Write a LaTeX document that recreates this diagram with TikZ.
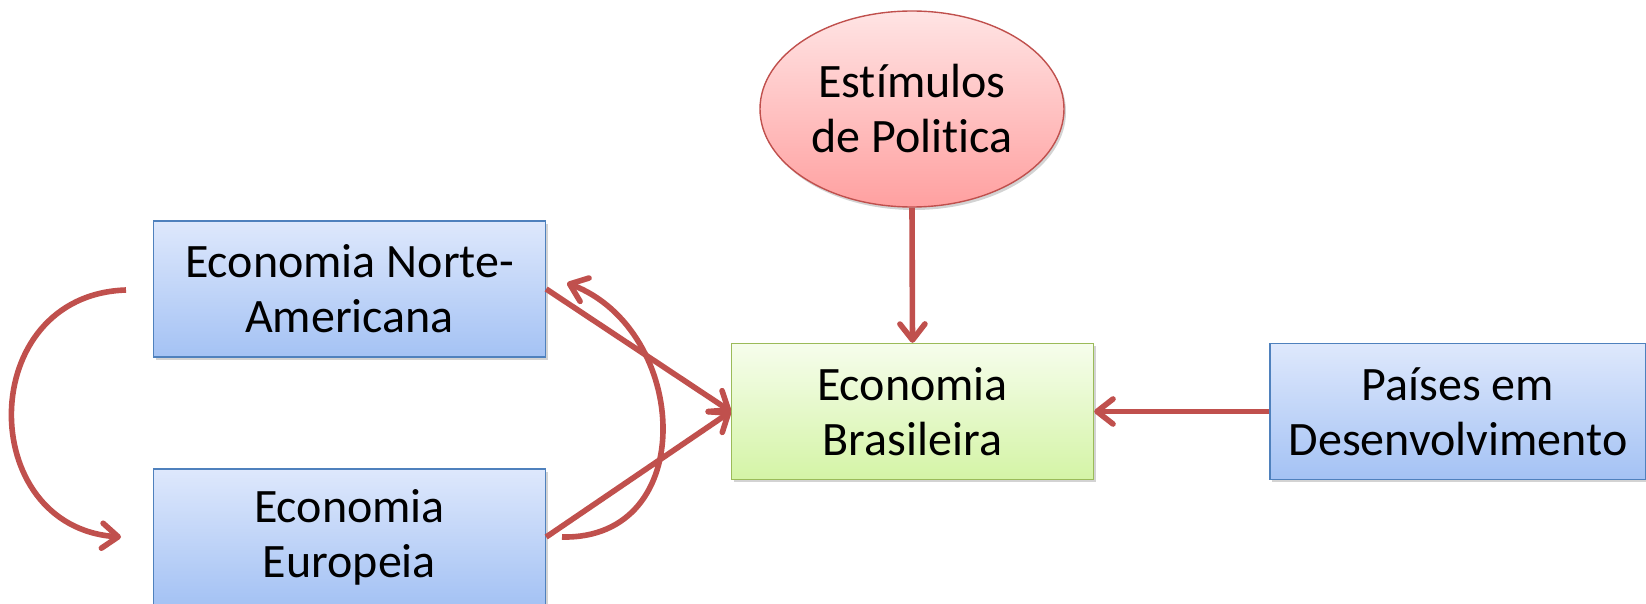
\documentclass[tikz,border=0pt]{standalone}
\usepackage{fontspec}
\setmainfont{Carlito}[Ligatures=NoCommon]
\usetikzlibrary{shapes.geometric,arrows.meta,shadows}
\definecolor{arrowred}{HTML}{C0504D}
\definecolor{boxblue}{HTML}{4F81BD}
\definecolor{boxgreen}{HTML}{9BBB59}
\tikzset{
  txt/.style={align=center, font=\fontsize{24}{27.5}\selectfont},
  bluebox/.style={txt, draw=boxblue, line width=0.7pt, top color={rgb,255:red,222;green,232;blue,252}, bottom color={rgb,255:red,164;green,194;blue,244},
    minimum width=196pt, minimum height=68pt, inner sep=2pt,
    drop shadow={opacity=0.35, shadow xshift=1pt, shadow yshift=-1.5pt}},
  greenbox/.style={txt, draw=boxgreen, line width=0.7pt, top color={rgb,255:red,246;green,253;blue,236}, bottom color={rgb,255:red,212;green,244;blue,166},
    minimum width=181pt, minimum height=68pt, inner sep=2pt,
    drop shadow={opacity=0.35, shadow xshift=1pt, shadow yshift=-1.5pt}},
  redellipse/.style={txt, ellipse, draw=arrowred, line width=0.7pt, top color={rgb,255:red,255;green,228;blue,228}, bottom color={rgb,255:red,255;green,160;blue,160},
    minimum width=152pt, minimum height=98pt, inner sep=0pt,
    drop shadow={opacity=0.35, shadow xshift=1pt, shadow yshift=-1.5pt}},
  conn/.style={draw=arrowred, line width=2.8pt, -{Straight Barb[length=8pt, width=12.5pt, round, line width=2.8pt]}},
}
\begin{document}
\begin{tikzpicture}[x=0.5pt, y=-0.5pt]
\useasboundingbox (0,0) rectangle (1646,604);
\node[bluebox] (na) at (349.5,289) {Economia Norte-\\Americana};
\node[bluebox] (eu) at (349.5,537) {Economia\\Europeia};
\node[greenbox] (br) at (912.5,411.5) {Economia\\Brasileira};
\node[bluebox, minimum width=188pt] (pd) at (1458,411.5) {Países em\\Desenvolvimento};
\node[redellipse] (ep) at (912,109) {Estímulos\\de Politica};
\coordinate (l1) at (126,290);
\coordinate (l2) at (121,537);
\coordinate (r1) at (562,537);
\coordinate (r2) at (567,283);
\draw[conn] (ep.south) -- (br.north);
\draw[conn] (pd.west) -- (br.east);
\draw[conn] (na.east) -- (br.west);
\draw[conn] (eu.east) -- (br.west);
\draw[conn] (l1) .. controls (-25,295) and (-25,527) .. (l2);
\draw[conn] (r1) .. controls (700,540) and (690,330) .. (r2);
\end{tikzpicture}
\end{document}
